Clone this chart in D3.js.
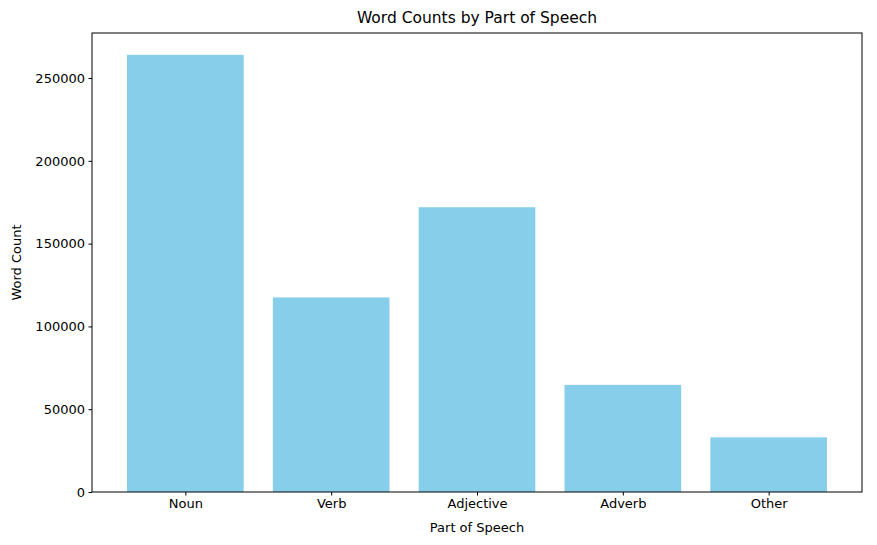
<!DOCTYPE html>
<html><head><meta charset="utf-8">
<script src="https://cdn.jsdelivr.net/npm/d3@7"></script>
<style>body{margin:0;background:#fff;font-family:"DejaVu Sans",sans-serif;}</style>
</head><body><svg id="chart" width="877" height="545"></svg>
<script>
let categories = ['Noun', 'Verb', 'Adjective', 'Adverb', 'Other'];
let counts = [264000, 117500, 172000, 64700, 33000];
let yTicks = [0, 50000, 100000, 150000, 200000, 250000];

let mLeft = 92, mRight = 862, mTop = 33, mBottom = 492;
let svg = d3.select("#chart");

let x = d3.scaleLinear().domain([-0.64, categories.length - 1 + 0.64]).range([mLeft, mRight]);
let y = d3.scaleLinear().domain([0, d3.max(counts) * 1.05]).range([mBottom, mTop]);
let bw = x(0.4) - x(-0.4);

svg.selectAll("rect.bar").data(counts).enter().append("rect")
  .attr("class", "bar")
  .attr("x", (d, i) => x(i) - bw / 2)
  .attr("width", bw)
  .attr("y", d => y(d))
  .attr("height", d => mBottom - y(d))
  .attr("fill", "skyblue");

let yAxis = svg.append("g").attr("transform", `translate(${mLeft},0)`)
  .call(d3.axisLeft(y).tickValues(yTicks).tickSize(3.5).tickPadding(3.5).tickFormat(d3.format("d")));
let xAxis = svg.append("g").attr("transform", `translate(0,${mBottom})`)
  .call(d3.axisBottom(x).tickValues(d3.range(categories.length)).tickSize(3.5).tickPadding(3.5).tickFormat(i => categories[i]));
[yAxis, xAxis].forEach(g => {
  g.select(".domain").remove();
  g.selectAll("text").attr("font-size", 13).attr("fill", "#000").attr("font-family", "DejaVu Sans");
  g.selectAll("line").attr("stroke", "#000");
});

svg.append("rect").attr("x", mLeft).attr("y", mTop).attr("width", mRight - mLeft).attr("height", mBottom - mTop)
  .attr("fill", "none").attr("stroke", "#000").attr("stroke-width", 1);

svg.append("text").attr("x", (mLeft + mRight) / 2).attr("y", mTop - 10).attr("text-anchor", "middle")
  .attr("font-size", 15.5).text("Word Counts by Part of Speech");
svg.append("text").attr("x", (mLeft + mRight) / 2).attr("y", 532).attr("text-anchor", "middle")
  .attr("font-size", 13).text("Part of Speech");
svg.append("text").attr("transform", `translate(21,${(mTop + mBottom) / 2}) rotate(-90)`).attr("text-anchor", "middle")
  .attr("font-size", 13).text("Word Count");
</script></body></html>
